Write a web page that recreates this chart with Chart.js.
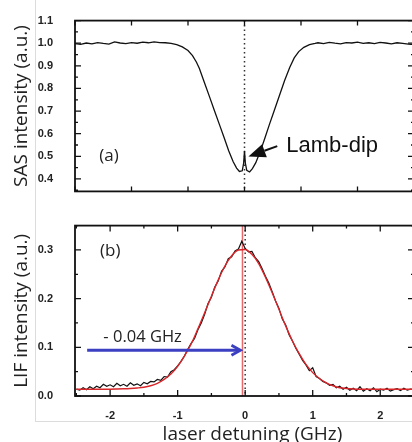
<!DOCTYPE html>
<html>
<head>
<meta charset="utf-8">
<script src="https://cdn.jsdelivr.net/npm/chart.js@4.4.1/dist/chart.umd.min.js"></script>
<style>
html, body { margin: 0; padding: 0; background: #fff; overflow: hidden; width: 412px; height: 442px; }
#wrap { position: relative; width: 412px; height: 442px; overflow: hidden; }
.box { position: absolute; left: 35px; top: -2px; width: 400px; height: 423px; border-left: 1px solid #dcdcdc; border-bottom: 1px solid #dcdcdc; }
canvas { position: absolute; left: 0; }
#sas { top: 0; }
#lif { top: 205px; }
#xtitle { position: absolute; left: 112px; width: 281px; top: 424px; text-align: center; font: 19px "Open Sans"; line-height: 19px; color: #222; white-space: nowrap; }
</style>
</head>
<body>
<div id="wrap">
  <div class="box"></div>
  <canvas id="sas" width="414" height="212" style="width:414px;height:212px"></canvas>
  <canvas id="lif" width="414" height="237" style="width:414px;height:237px"></canvas>
  <div id="xtitle">laser detuning (GHz)</div>
</div>
<script>
// (a) saturated absorption trace, x in the top panel's own tick units
const sasX = [
  -3.0, -2.9, -2.8, -2.7, -2.6, -2.5, -2.4, -2.3, -2.2, -2.1, -2.0, -1.9, -1.8, -1.7, -1.6, -1.5, -1.4, -1.3,
  -1.2, -1.1, -1.0, -0.92, -0.85, -0.8, -0.71, -0.62, -0.53, -0.44, -0.36, -0.28, -0.2, -0.14, -0.09, -0.04, -0.015,
  0,
  0.015, 0.04, 0.09, 0.14, 0.2, 0.28, 0.36, 0.44, 0.53, 0.62, 0.71, 0.8, 0.88, 0.96, 1.05, 1.15, 1.25,
  1.3, 1.4, 1.5, 1.6, 1.7, 1.8, 1.9, 2.0, 2.1, 2.2, 2.3, 2.4, 2.5, 2.6, 2.7, 2.8, 2.9, 3.0
];
const sasY = [
  0.998, 0.995, 1.001, 0.997, 1.003, 0.999, 0.996, 1.006, 1.001, 0.998, 1.003, 1.000, 1.005, 1.002, 1.006, 1.003, 1.002, 0.999,
  0.994, 0.984, 0.968, 0.945, 0.916, 0.889, 0.826, 0.764, 0.700, 0.638, 0.582, 0.525, 0.476, 0.448, 0.433, 0.436, 0.470,
  0.524,
  0.470, 0.438, 0.431, 0.446, 0.472, 0.522, 0.580, 0.640, 0.705, 0.770, 0.835, 0.893, 0.935, 0.963, 0.982, 0.994, 0.999,
  1.002, 0.998, 1.004, 1.000, 0.997, 1.003, 1.001, 1.005, 0.999, 1.002, 0.998, 1.004, 1.001, 0.997, 1.002, 0.999, 0.996, 0.994
];

// (b) LIF trace, sampled every 0.05 GHz from -2.5 GHz
const lifStart = -2.5, lifStep = 0.05;
const lifY = [
  0.014, 0.012, 0.017, 0.013, 0.019, 0.015, 0.020, 0.017, 0.024, 0.020,
  0.023, 0.019, 0.026, 0.021, 0.024, 0.020, 0.027, 0.022, 0.025, 0.021,
  0.028, 0.025, 0.030, 0.029, 0.034, 0.032, 0.040, 0.039, 0.050, 0.054,
  0.062, 0.071, 0.082, 0.096, 0.108, 0.118, 0.136, 0.150, 0.168, 0.190,
  0.203, 0.224, 0.236, 0.256, 0.265, 0.282, 0.286, 0.298, 0.302, 0.318,
  0.303, 0.296, 0.297, 0.284, 0.276, 0.262, 0.246, 0.232, 0.214, 0.195,
  0.180, 0.158, 0.146, 0.126, 0.113, 0.098, 0.086, 0.073, 0.064, 0.052,
  0.058, 0.040, 0.036, 0.030, 0.027, 0.022, 0.024, 0.017, 0.020, 0.014,
  0.018, 0.012, 0.016, 0.011, 0.019, 0.010, 0.015, 0.011, 0.017, 0.009,
  0.014, 0.012, 0.016, 0.010, 0.013, 0.015, 0.011, 0.016, 0.012, 0.014,
  0.013
];

// red fit, every 0.1 GHz from -2.5 GHz
const fitStart = -2.5, fitStep = 0.1;
const fitY = [
  0.014, 0.014, 0.014, 0.014, 0.014, 0.014, 0.0143, 0.0148, 0.0155, 0.0165,
  0.018, 0.021, 0.026, 0.034, 0.045, 0.061, 0.082, 0.107, 0.138, 0.171,
  0.205, 0.238, 0.267, 0.288, 0.300, 0.301, 0.291, 0.272, 0.244, 0.212,
  0.178, 0.144, 0.113, 0.087, 0.065, 0.048, 0.036, 0.027, 0.021, 0.017,
  0.0155, 0.0145, 0.014, 0.014, 0.014, 0.014, 0.014, 0.014, 0.014, 0.014,
  0.014
];

const lifShift = -0.04;   // GHz, centre of the fit
const tickFont = { family: 'Liberation Sans', weight: 'bold', size: 11 };
const txtFont = '"Open Sans"';

function marks(scale, o, draw) {
  const n0 = Math.ceil(scale.min / o.minor - 1e-9), n1 = Math.floor(scale.max / o.minor + 1e-9);
  const r = Math.round(o.major / o.minor);
  for (let n = n0; n <= n1; n++) {
    draw(scale.getPixelForValue(n * o.minor), n % r === 0 ? o.majorLen : o.minorLen);
  }
}

const frame = {
  id: 'frame',
  afterDatasetsDraw(chart, args, o) {
    const { ctx, chartArea: a, scales: { x, y } } = chart;
    ctx.save();
    ctx.strokeStyle = '#111';
    ctx.lineWidth = 1.3;
    ctx.beginPath();
    marks(x, o.x, (p, len) => { ctx.moveTo(p, a.top); ctx.lineTo(p, a.top + len); ctx.moveTo(p, a.bottom); ctx.lineTo(p, a.bottom - len); });
    marks(y, o.y, (p, len) => { ctx.moveTo(a.left, p); ctx.lineTo(a.left + len, p); ctx.moveTo(a.right, p); ctx.lineTo(a.right - len, p); });
    ctx.stroke();
    ctx.lineWidth = 1.8;
    ctx.strokeRect(a.left, a.top, a.right - a.left, a.bottom - a.top);
    ctx.restore();
  }
};

function arrow(ctx, x0, y0, x1, y1, s) {
  const ang = Math.atan2(y1 - y0, x1 - x0);
  const c = Math.cos(ang), sn = Math.sin(ang);
  ctx.strokeStyle = s.color; ctx.fillStyle = s.color; ctx.lineWidth = s.width;
  ctx.beginPath();
  if (s.filled) {
    const bx = x1 - c * s.head, by = y1 - sn * s.head;
    ctx.moveTo(x0, y0); ctx.lineTo(bx, by); ctx.stroke();
    ctx.beginPath();
    ctx.moveTo(x1, y1);
    ctx.lineTo(bx - sn * s.half, by + c * s.half);
    ctx.lineTo(bx + sn * s.half, by - c * s.half);
    ctx.closePath(); ctx.fill();
  } else {
    ctx.moveTo(x0, y0); ctx.lineTo(x1 - c, y1 - sn); ctx.stroke();
    ctx.beginPath();
    const bx = x1 - c * s.head, by = y1 - sn * s.head;
    ctx.moveTo(bx - sn * s.half, by + c * s.half);
    ctx.lineTo(x1, y1);
    ctx.lineTo(bx + sn * s.half, by - c * s.half);
    ctx.stroke();
  }
}

const notes = {
  id: 'notes',
  beforeDatasetsDraw(chart, args, o) {
    const { ctx, chartArea: a, scales: { x } } = chart;
    ctx.save();
    (o.vlines || []).forEach(l => {
      const p = x.getPixelForValue(l.x);
      ctx.strokeStyle = l.color; ctx.lineWidth = l.width;
      ctx.setLineDash(l.dash || []);
      ctx.beginPath(); ctx.moveTo(p, a.top); ctx.lineTo(p, a.bottom); ctx.stroke();
    });
    ctx.restore();
  },
  afterDatasetsDraw(chart, args, o) {
    const { ctx, scales: { x, y } } = chart;
    ctx.save();
    (o.arrows || []).forEach(ar => {
      arrow(ctx, x.getPixelForValue(ar.from[0]), y.getPixelForValue(ar.from[1]),
        x.getPixelForValue(ar.to[0]), y.getPixelForValue(ar.to[1]), ar);
    });
    (o.texts || []).forEach(t => {
      ctx.font = t.font; ctx.fillStyle = t.color || '#222';
      ctx.textAlign = 'left'; ctx.textBaseline = t.baseline || 'alphabetic';
      ctx.fillText(t.text, x.getPixelForValue(t.at[0]), y.getPixelForValue(t.at[1]));
    });
    ctx.restore();
  }
};

function yAxis(min, max, title) {
  return {
    min, max,
    afterFit: s => { s.width = 75; },
    grid: { display: false }, border: { display: false },
    ticks: { stepSize: 0.1, includeBounds: false, padding: 14, color: '#222', font: tickFont, callback: v => v.toFixed(1) },
    title: { display: true, text: title, color: '#222', font: { family: 'Open Sans', size: 19 }, padding: { top: 10, bottom: 0 } }
  };
}

new Chart(document.getElementById('sas'), {
  type: 'line',
  data: {
    datasets: [{
      data: sasX.map((v, i) => ({ x: v, y: sasY[i] })),
      borderColor: '#111', borderWidth: 1.3, pointRadius: 0, tension: 0
    }]
  },
  options: {
    responsive: false, animation: false,
    layout: { padding: { top: 19, bottom: 12, left: 0, right: 0 } },
    plugins: {
      legend: { display: false }, tooltip: { enabled: false },
      frame: { x: { major: 1, minor: 1, majorLen: 5, minorLen: 5 }, y: { major: 0.1, minor: 0.05, majorLen: 6, minorLen: 3 } },
      notes: {
        vlines: [{ x: 0, color: '#333', width: 1.5, dash: [1.5, 3] }],
        arrows: [{ from: [0.58, 0.545], to: [0.07, 0.499], color: '#111', width: 2, filled: true, head: 17, half: 7 }],
        texts: [
          { text: 'Lamb-dip', at: [0.74, 0.52], font: '22px "Liberation Sans"', color: '#111' },
          { text: '(a)', at: [-2.57, 0.499], font: '17px ' + txtFont, baseline: 'middle' }
        ]
      }
    },
    scales: {
      x: { type: 'linear', min: -3, max: 3, display: false },
      y: yAxis(0.345, 1.1, 'SAS intensity (a.u.)')
    }
  },
  plugins: [notes, frame]
});

new Chart(document.getElementById('lif'), {
  type: 'line',
  data: {
    datasets: [
      {
        data: fitY.map((v, i) => ({ x: fitStart + i * fitStep, y: v })),
        borderColor: '#d8262a', borderWidth: 1.4, pointRadius: 0, cubicInterpolationMode: 'monotone'
      },
      {
        data: lifY.map((v, i) => ({ x: lifStart + i * lifStep, y: v })),
        borderColor: '#111', borderWidth: 1.2, pointRadius: 0, tension: 0
      }
    ]
  },
  options: {
    responsive: false, animation: false,
    layout: { padding: { top: 9, bottom: 0, left: 0, right: 0 } },
    plugins: {
      legend: { display: false }, tooltip: { enabled: false },
      frame: { x: { major: 1, minor: 0.5, majorLen: 6, minorLen: 3 }, y: { major: 0.1, minor: 0.05, majorLen: 6, minorLen: 3 } },
      notes: {
        vlines: [
          { x: lifShift, color: '#e8686a', width: 1.5 },
          { x: 0, color: '#333', width: 1.5, dash: [1.5, 3] }
        ],
        arrows: [{ from: [-2.34, 0.094], to: [-0.07, 0.094], color: '#3b3fc2', width: 2.8, filled: false, head: 9, half: 5 }],
        texts: [
          { text: '(b)', at: [-2.15, 0.298], font: '17px ' + txtFont, baseline: 'middle' },
          { text: '- 0.04 GHz', at: [-2.1, 0.1115], font: '16.5px ' + txtFont }
        ]
      }
    },
    scales: {
      x: {
        type: 'linear', min: -2.52, max: 2.5,
        afterFit: s => { s.height = 46; },
        grid: { display: false }, border: { display: false },
        ticks: { stepSize: 1, includeBounds: false, padding: 5, color: '#222', font: tickFont }
      },
      y: yAxis(0, 0.35, 'LIF intensity (a.u.)')
    }
  },
  plugins: [notes, frame]
});
</script>
</body>
</html>
